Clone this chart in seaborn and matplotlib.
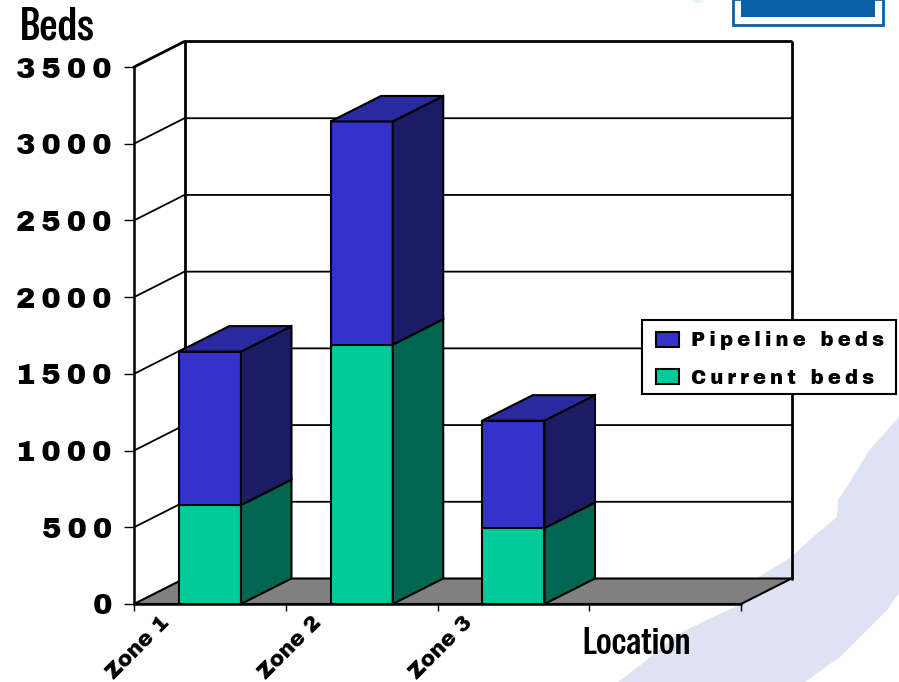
import matplotlib
matplotlib.use("Agg")
import matplotlib.pyplot as plt
from matplotlib.patches import Polygon, Rectangle, Ellipse
from matplotlib.ticker import FixedLocator, FixedFormatter
from matplotlib.transforms import ScaledTranslation
import seaborn as sns

zones = ["Zone 1", "Zone 2", "Zone 3"]
current_beds = [645, 1690, 495]
pipeline_beds = [1000, 1455, 700]
y_ticks = [0, 500, 1000, 1500, 2000, 2500, 3000, 3500]

W, H = 899, 682
BLUE = ("#3333CC", "#1C1C66", "#2A2AA0")
GREEN = ("#00CC99", "#006650", "#00A880")
FLOOR = "#808080"
THIN = "\u2009"
DEPTH_X = 50.5 / 151.75      # category units per full depth
DEPTH_Y = 25.5 * 3500 / 537  # value units per full depth
BAR_WIDTH = 0.41

sns.set_theme(style="white")
HEAVY = ["Archivo Black", "DejaVu Sans"]
NARROW = ["Special Gothic Condensed One", "Saira ExtraCondensed", "DejaVu Sans"]
plt.rcParams["font.family"] = HEAVY

fig = plt.figure(figsize=(W / 100, H / 100), dpi=100, facecolor="white")
ax = fig.add_axes([134 / W, 1 - 604 / H, (741 - 134) / W, (604 - 67) / H])
ax.patch.set_alpha(0)


def px(points):
    return [(x / W, 1 - y / H) for x, y in points]


# Slide backdrop: pale swoosh and the logo box at the top edge
swoosh = [(899, 417), (890, 427), (868, 452), (847, 487), (838, 500), (837, 517),
          (813, 537), (790, 558), (757, 578), (740, 605), (717, 615), (680, 633),
          (643, 663), (618, 682), (805, 682), (840, 657), (887, 610), (899, 593)]
fig.add_artist(Polygon(px(swoosh), closed=True, transform=fig.transFigure,
                       facecolor="#DDE3F2", edgecolor="none", zorder=-3))
fig.add_artist(Rectangle((733 / W, 1 - 25 / H), 150 / W, 26 / H, transform=fig.transFigure,
                         facecolor="white", edgecolor="#0A5FA8", linewidth=2, zorder=-2))
fig.add_artist(Rectangle((741 / W, 1 - 17 / H), 134 / W, 18 / H, transform=fig.transFigure,
                         facecolor="#0A5FA8", edgecolor="none", zorder=-2))
fig.add_artist(Ellipse((698 / W, 1 - 0 / H), 12 / W, 6 / H, transform=fig.transFigure,
                       facecolor="#E5F1F9", edgecolor="none", zorder=-2))

order = zones + [""]
sns.barplot(x=zones, y=current_beds, order=order, ax=ax, color=GREEN[0], saturation=1,
            width=BAR_WIDTH, edgecolor="black", linewidth=1.5, label="Current beds")
sns.barplot(x=zones, y=pipeline_beds, order=order, ax=ax, color=BLUE[0], saturation=1,
            width=BAR_WIDTH, edgecolor="black", linewidth=1.5, bottom=current_beds,
            label="Pipeline beds")
ax.set_xlim(-0.5, 3.5)
ax.set_ylim(0, 3500)


def deep(x, y, d=1.0):
    return (x + d * DEPTH_X, y + d * DEPTH_Y)


# Floor and back walls, sitting one depth step behind the front plane
ax.add_patch(Polygon([deep(-0.5, 0, 0), deep(3.5, 0, 0), deep(3.5, 0), deep(-0.5, 0)],
                     closed=True, facecolor=FLOOR, edgecolor="black", linewidth=1.5,
                     clip_on=False, zorder=0.6))
for tick in y_ticks[1:]:
    lw = 2 if tick == y_ticks[-1] else 1.3
    ax.plot(*zip(deep(-0.5, tick, 0), deep(-0.5, tick), deep(3.5, tick)),
            color="black", lw=lw, clip_on=False, zorder=0.5, solid_joinstyle="miter")
for x in (-0.5, 3.5):
    ax.plot(*zip(deep(x, 0), deep(x, y_ticks[-1])), color="black", lw=2, clip_on=False, zorder=0.5)


# Side faces of each stacked segment; only the upper segment shows a top face
def box_faces(center, low, high, colors, with_top=False):
    x0, x1 = center - BAR_WIDTH / 2, center + BAR_WIDTH / 2
    side = [deep(x1, low, 0), deep(x1, high, 0), deep(x1, high), deep(x1, low)]
    ax.add_patch(Polygon(side, closed=True, facecolor=colors[1], edgecolor="black",
                         linewidth=1.5, clip_on=False, zorder=2))
    if with_top:
        top = [deep(x0, high, 0), deep(x1, high, 0), deep(x1, high), deep(x0, high)]
        ax.add_patch(Polygon(top, closed=True, facecolor=colors[2], edgecolor="black",
                             linewidth=1.5, clip_on=False, zorder=2))


for i, (cur, pipe) in enumerate(zip(current_beds, pipeline_beds)):
    box_faces(i, 0, cur, GREEN)
    box_faces(i, cur, cur + pipe, BLUE, with_top=True)

# Axes: boundary ticks on x, zone names set on the category centres
sns.despine(ax=ax, top=True, right=True)
for name in ("left", "bottom"):
    ax.spines[name].set_color("black")
    ax.spines[name].set_linewidth(1.8)

ax.set_yticks(y_ticks)
ax.set_yticklabels([THIN.join(str(t)) for t in y_ticks], fontsize=21, color="black")
ax.tick_params(axis="y", length=7, width=1, color="black", left=True, pad=9)

ax.xaxis.set_major_locator(FixedLocator([-0.5, 0.5, 1.5, 2.5, 3.5]))
ax.xaxis.set_major_formatter(FixedFormatter([""] * 5))
ax.xaxis.set_minor_locator(FixedLocator([0, 1, 2]))
ax.xaxis.set_minor_formatter(FixedFormatter(zones))
ax.tick_params(axis="x", which="major", length=5, width=1, color="black", bottom=True)
ax.tick_params(axis="x", which="minor", length=0, pad=11)
shift = ScaledTranslation(-44 / 100, 0, fig.dpi_scale_trans)
for label in ax.get_xticklabels(minor=True):
    label.set_rotation(45)
    label.set_rotation_mode("anchor")
    label.set_ha("right")
    label.set_va("center")
    label.set_fontsize(15.5)
    label.set_color("black")
    label.set_transform(label.get_transform() + shift)

ax.set_ylabel("Beds", rotation=0, family=NARROW, fontsize=33, color="black",
              ha="left", va="center")
ax.yaxis.set_label_coords((20 - 134) / (741 - 134), (604 - 27) / (604 - 67))
ax.set_xlabel("Location", family=NARROW, fontsize=27, color="black",
              ha="center", va="center")
ax.xaxis.set_label_coords((637 - 134) / (741 - 134), (604 - 643) / (604 - 67))

# Legend box drawn separately so its padding can differ per side
ax.add_patch(Rectangle((642 / W, 1 - 394 / H), 254 / W, 74 / H, transform=fig.transFigure,
                       facecolor="white", edgecolor="black", linewidth=1.5, clip_on=False,
                       zorder=5))
handles, labels = ax.get_legend_handles_labels()
legend = ax.legend(handles[::-1], [THIN.join(list(s)) for s in labels[::-1]],
                   loc="upper left", bbox_to_anchor=(656 / W, 1 - 331 / H),
                   bbox_transform=fig.transFigure, frameon=False, borderaxespad=0, borderpad=0,
                   labelspacing=0.95, handlelength=1.15, handleheight=0.8, handletextpad=0.6,
                   prop={"size": 14.2})
legend.set_zorder(6)
for text in legend.get_texts():
    text.set_color("black")

fig.savefig("out.png", dpi=100)
